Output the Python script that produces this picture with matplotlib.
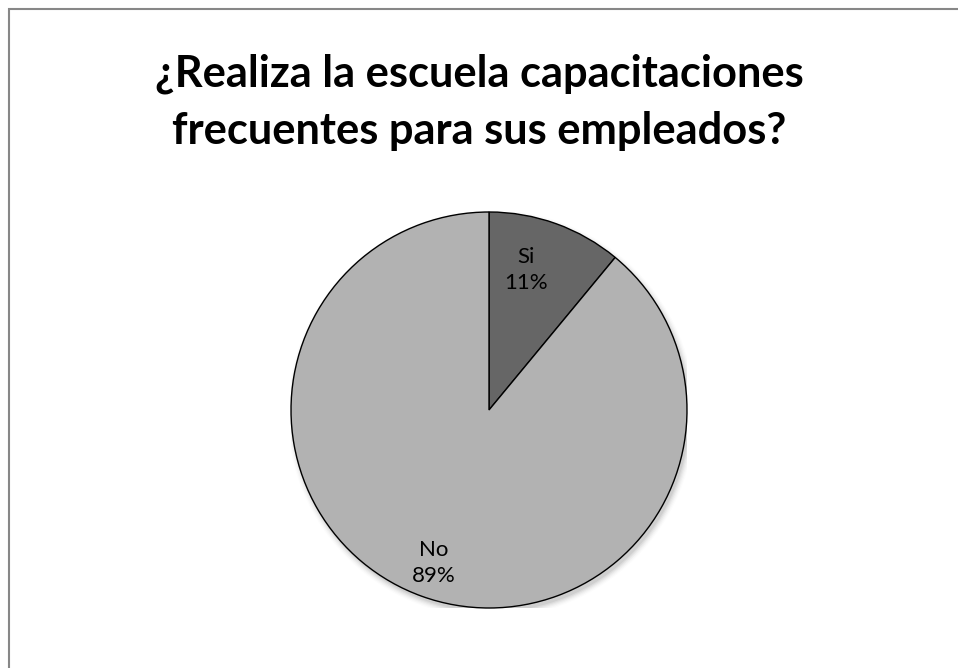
import numpy as np
import matplotlib.pyplot as plt
from matplotlib.patches import Rectangle, Circle

# Survey answers
labels = ['Si', 'No']
values = [11, 89]
colors = ['#666666', '#b2b2b2']
title = '¿Realiza la escuela capacitaciones\nfrecuentes para sus empleados?'

plt.rcParams['font.family'] = ['Lato', 'DejaVu Sans']

fig = plt.figure(figsize=(9.58, 6.68), dpi=100)
fig.patch.set_facecolor('white')

# chart frame (only top/left edges fall inside the image)
fig.patches.append(Rectangle((9 / 958, -0.1), 1.2, (668 - 9) / 668 + 0.1,
                             transform=fig.transFigure, fill=False,
                             edgecolor='#878787', linewidth=1.5))

fig.text(0.5, 0.847, title, ha='center', va='center', fontsize=31.2,
         fontweight='bold', linespacing=1.52, color='black')

ax = fig.add_axes([291 / 958, 60 / 668, 396 / 958, 396 / 668])

# soft shadow under the pie
for i, a in enumerate(np.linspace(0.05, 0.012, 6)):
    ax.add_patch(Circle((0.012, -0.02), 1.0 + 0.006 * i, color='black',
                        alpha=a, linewidth=0, zorder=0))

wedges, _ = ax.pie(values, colors=colors, startangle=90, counterclock=False,
                   radius=1.0, wedgeprops=dict(edgecolor='black', linewidth=1.0))
for w in wedges:
    w.set_zorder(2)

ax.set_xlim(-1.0, 1.0)
ax.set_ylim(-1.0, 1.0)
ax.set_aspect('equal')
ax.axis('off')

# label offsets along each wedge's bisector
dists = [0.73, 0.82]
for w, name, v, d in zip(wedges, labels, values, dists):
    mid = np.deg2rad((w.theta1 + w.theta2) / 2 + (5 if name == 'Si' else 0))
    ax.text(d * np.cos(mid), d * np.sin(mid), f'{name}\n{v}%', ha='center',
            va='center', fontsize=16, linespacing=1.35, zorder=3)

fig.savefig('out.png', dpi=100)
